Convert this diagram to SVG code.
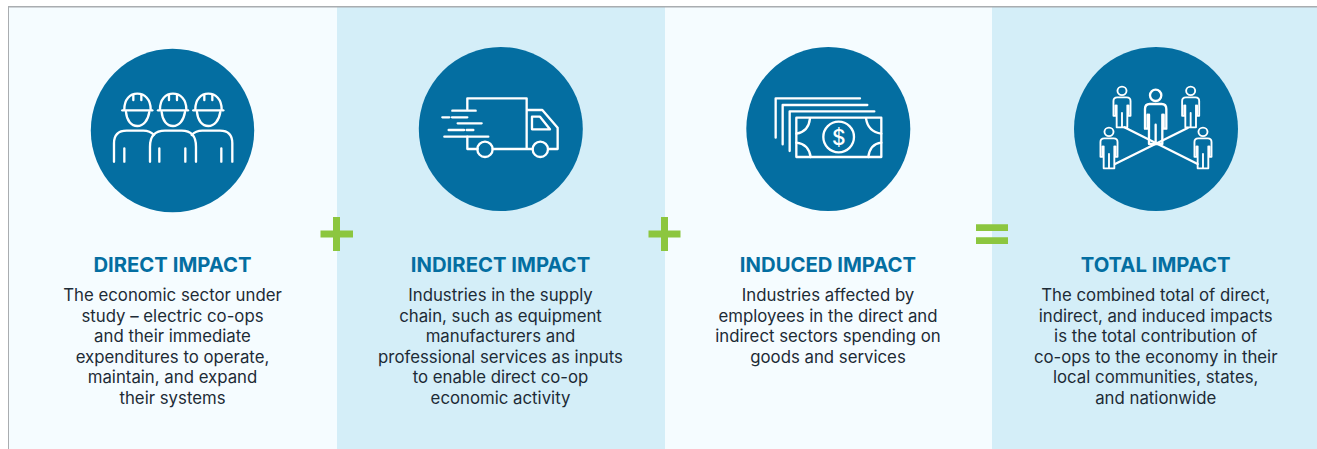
<svg xmlns="http://www.w3.org/2000/svg" width="1317" height="449" viewBox="0 0 1317 449">
<style>
.light{fill:#f5fcff}.blue{fill:#d4eef8}.disc{fill:#046ea1}.op{fill:#8cc63f}
.ico{fill:none;stroke:#fff;stroke-width:7;stroke-linecap:round;stroke-linejoin:round}
text{font-family:"Inter","Open Sans","Liberation Sans",sans-serif;text-anchor:middle}
.h{font-size:20.300px;font-weight:700;fill:#046ea1}
.b{font-size:16.800px;fill:#1d2b36}
</style>
<defs>
<g id="worker" class="ico">
<path d="M133 208C133 178 150 161 172 161S212 178 212 208"/><path d="M127 211H217"/><path d="M160 166V180M184 166V180"/>
<path d="M138 216C140 242 154 258 172 258S204 242 208 216"/>
</g>
<g id="person" class="ico">
<circle cx="0" cy="-26" r="17"/>
<path d="M-32 74V15Q-32 0-18 0H18Q32 0 32 15V74H24V32M-24 32V74H-32M-20 32V120H20V32M0 62V120"/>
</g>
</defs>
<rect width="1317" height="449" fill="#fff"/>
<rect x="8" y="6" width="1309" height="443" fill="#a9adb0"/>
<g id="direct">
<rect class="light" x="9" y="7.500" width="328" height="442"/>
<circle class="disc" cx="172.500" cy="130.500" r="81.700"/>
<g transform="translate(80 40) scale(.3333)">
<use href="#worker"/><use href="#worker" x="107"/><use href="#worker" x="213"/>
<path class="ico" d="M102 365V310Q102 272 140 272H190Q210 272 222 285M210 365V320Q210 272 255 272H305Q348 272 348 320V365M335 285Q347 272 367 272H420Q457 272 457 310V365M133 325V365M238 325V365M316 325V365M424 325V365"/>
</g>
<text class="h" x="172.500" y="272">DIRECT IMPACT</text>
<text class="b" x="172.500" y="301.300">The economic sector under</text>
<text class="b" x="172.500" y="321.800">study – electric co-ops</text>
<text class="b" x="172.500" y="342.300">and their immediate</text>
<text class="b" x="172.500" y="362.800">expenditures to operate,</text>
<text class="b" x="172.500" y="383.300">maintain, and expand</text>
<text class="b" x="172.500" y="403.800">their systems</text>
</g>
<g id="indirect">
<rect class="blue" x="337" y="7.500" width="328" height="442"/>
<circle class="disc" cx="500.800" cy="129" r="82"/>
<g class="ico" transform="translate(410 40) scale(.3333)">
<path d="M172 208V175H350V327M172 290V327H203M248 327H367M350 210H397L443 263V327H415"/>
<path d="M366 230H390L420 268H366Z"/>
<circle cx="225" cy="328" r="23"/><circle cx="391" cy="328" r="23"/>
<path d="M127 212H197M97 232H118M126 232H172M143 250H215M116 270H162M170 270H190M103 290H235"/>
</g>
<text class="h" x="500.500" y="272">INDIRECT IMPACT</text>
<text class="b" x="500.500" y="301.300">Industries in the supply</text>
<text class="b" x="500.500" y="321.800">chain, such as equipment</text>
<text class="b" x="500.500" y="342.300">manufacturers and</text>
<text class="b" x="500.500" y="362.800">professional services as inputs</text>
<text class="b" x="500.500" y="383.300">to enable direct co-op</text>
<text class="b" x="500.500" y="403.800">economic activity</text>
</g>
<g id="induced">
<rect class="light" x="665" y="7.500" width="327" height="442"/>
<circle class="disc" cx="828.300" cy="129" r="82"/>
<g class="ico" transform="translate(740 40) scale(.3333)">
<path d="M107 293V175H360M128 313V195H382M149 333V214H403"/>
<rect x="169" y="233" width="255" height="118"/>
<circle cx="296" cy="291" r="46"/>
<path d="M169 281Q206 275 210 235M378 235Q384 275 424 281M169 308Q206 312 212 351M385 351Q390 312 424 308"/>
</g>
<text x="838.700" y="145" font-size="21" font-weight="500" fill="#fff">$</text>
<text class="h" x="828" y="272">INDUCED IMPACT</text>
<text class="b" x="828" y="301.300">Industries affected by</text>
<text class="b" x="828" y="321.800">employees in the direct and</text>
<text class="b" x="828" y="342.300">indirect sectors spending on</text>
<text class="b" x="828" y="362.800">goods and services</text>
</g>
<g id="total">
<rect class="blue" x="992" y="7.500" width="325" height="442"/>
<circle class="disc" cx="1156" cy="129" r="82"/>
<g transform="translate(1065 40) scale(.3333)">
<path class="ico" d="M178 262L398 372M368 264L150 372"/>
<use href="#person" transform="translate(272 192)"/>
<use href="#person" transform="translate(171 172) scale(.8 .75)"/>
<use href="#person" transform="translate(377 172) scale(.8 .75)"/>
<use href="#person" transform="translate(132 295) scale(.8 .75)"/>
<use href="#person" transform="translate(414 295) scale(.8 .75)"/>
</g>
<text class="h" x="1155.700" y="272">TOTAL IMPACT</text>
<text class="b" x="1155.700" y="301.300">The combined total of direct,</text>
<text class="b" x="1155.700" y="321.800">indirect, and induced impacts</text>
<text class="b" x="1155.700" y="342.300">is the total contribution of</text>
<text class="b" x="1155.700" y="362.800">co-ops to the economy in their</text>
<text class="b" x="1155.700" y="383.300">local communities, states,</text>
<text class="b" x="1155.700" y="403.800">and nationwide</text>
</g>
<g id="connectors">
<path class="op" d="M333 217H340V230.500H353V237.500H340V251H333V237.500H320.500V230.500H333Z"/>
<path class="op" d="M661 217H668V230.500H680.500V237.500H668V251H661V237.500H648.500V230.500H661Z"/>
<path class="op" d="M976 224.300H1008V231H976ZM976 237.300H1008V244H976Z"/>
</g>
</svg>
